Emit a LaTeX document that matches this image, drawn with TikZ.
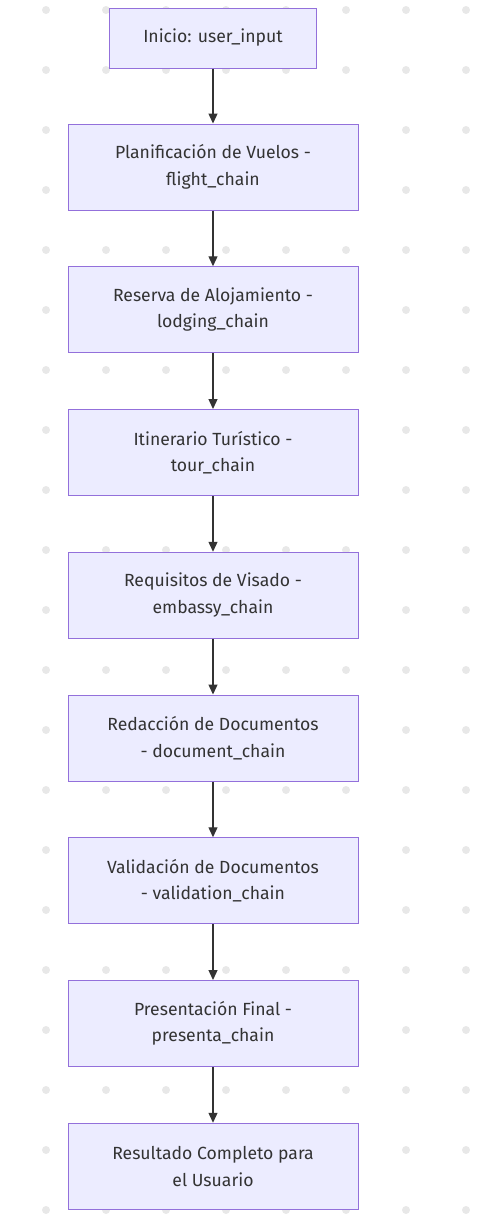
\documentclass[tikz,border=0pt]{standalone}
\usepackage{fontspec}
\setmainfont{Fira Sans}
\usepackage{tikz}
\usetikzlibrary{shapes,arrows,arrows.meta,positioning,calc}
\definecolor{boxfill}{HTML}{ECECFF}
\definecolor{boxline}{HTML}{9370DB}
\definecolor{ink}{HTML}{333333}
\definecolor{dotgray}{HTML}{E8E8E8}
\tikzset{
block/.style = {draw=boxline, fill=boxfill, line width=1pt, rectangle, text=ink, align=center, minimum height=86pt, minimum width=290pt, font=\fontsize{17.6}{26.5}\selectfont},
start/.style = {block, minimum height=60pt, minimum width=207pt},
link/.style = {->, draw=ink, line width=1.3pt}
}

\begin{document}
\begin{tikzpicture}[x=1pt, y=-1pt, node distance=142.75pt, >={Triangle[length=10pt,width=9pt]}]
    \useasboundingbox (0,0) rectangle (496,1226);
    % background dots
    \foreach \i in {0,...,7}
      \foreach \j in {0,...,20}
        \fill [dotgray] (46+60*\i,10+60*\j) circle (4pt);
    \node [start] (start) at (213,38) {Inicio: user\_input};
    \node [block, below of=start, node distance=129pt] (flight) {Planificación de Vuelos -\\flight\_chain};
    \node [block, below of=flight] (lodging) {Reserva de Alojamiento -\\lodging\_chain};
    \node [block, below of=lodging] (tour) {Itinerario Turístico -\\tour\_chain};
    \node [block, below of=tour] (embassy) {Requisitos de Visado -\\embassy\_chain};
    \node [block, below of=embassy] (document) {Redacción de Documentos\\- document\_chain};
    \node [block, below of=document] (validation) {Validación de Documentos\\- validation\_chain};
    \node [block, below of=validation] (presenta) {Presentación Final -\\presenta\_chain};
    \node [block, below of=presenta] (result) {Resultado Completo para\\el Usuario};
    \draw [link] (start) -- (flight);
    \draw [link] (flight) -- (lodging);
    \draw [link] (lodging) -- (tour);
    \draw [link] (tour) -- (embassy);
    \draw [link] (embassy) -- (document);
    \draw [link] (document) -- (validation);
    \draw [link] (validation) -- (presenta);
    \draw [link] (presenta) -- (result);
\end{tikzpicture}
\end{document}
